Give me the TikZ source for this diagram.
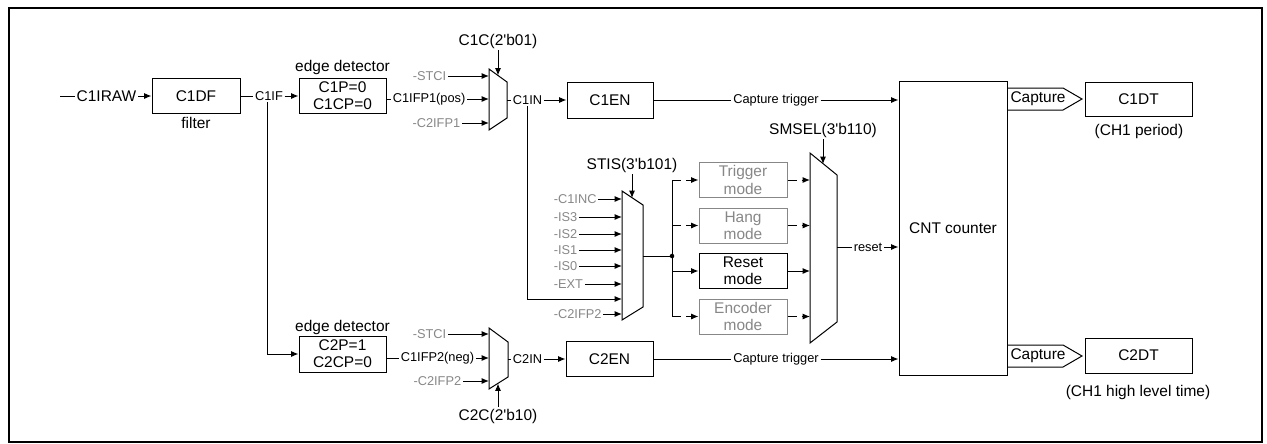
\documentclass[tikz,border=0pt]{standalone}
\usepackage{fontspec}
\setmainfont{Liberation Sans}
\usetikzlibrary{arrows.meta}
\definecolor{gtxt}{RGB}{135,135,135}
\newcommand{\q}{\textquotesingle}
\begin{document}
\begin{tikzpicture}[x=0.75pt,y=-0.75pt,line width=0.75pt,
  every node/.style={font=\fontsize{11.6}{13}\selectfont, inner sep=1pt},
  sz/.style 2 args={minimum width=#1*0.75pt, minimum height=#2*0.75pt},
  box/.style={draw, line width=0.75pt, align=center, inner sep=0pt},
  gbox/.style={box, draw=gtxt, text=gtxt},
  lbl/.style={font=\fontsize{9.6}{11}\selectfont, inner sep=1pt},
  glbl/.style={lbl, text=gtxt},
  arr/.style={-{Latex[length=5.5pt,width=4.5pt]}},
  dsh/.style={dash pattern=on 7pt off 3.5pt}]
\useasboundingbox (0,0) rectangle (1267,443);
\draw[line width=1.5pt] (9,8) rectangle (1262,442);

% ---------- row 1 ----------
\coordinate (rawin) at (60,96);
\node (raw) at (106.5,96) {C1IRAW};
\node[box, sz={88}{35}] (c1df) at (196,96) {C1DF};
\node (filt) at (196,123) {filter};
\draw (rawin) -- (raw.west);
\draw[arr] (raw.east) -- (c1df.west);

\node[box, sz={87}{35}] (ed1) at (342.5,96) {C1P=0\\C1CP=0};
\node (ed1l) at (342.5,67) {edge detector};
\node[lbl] (c1if) at (269,96) {C1IF};
\draw (c1df.east) -- (c1if.west);
\draw[arr] (c1if.east) -- (ed1.west);

% mux 1
\draw (489,69) -- (507,82) -- (507,118) -- (489,130) -- cycle;
\coordinate (m1a) at (489,76);
\coordinate (m1b) at (489,99);
\coordinate (m1c) at (489,123);
\coordinate (m1o) at (507,100);
\coordinate (m1s) at (498,75.5);
\node[glbl, anchor=east] (s1) at (448,76) {-STCI};
\node[lbl, anchor=west] (p1) at (391,99) {C1IFP1(pos)};
\node[glbl, anchor=east] (c2p1) at (462,123) {-C2IFP1};
\draw[arr] (s1.east) -- (m1a);
\draw (ed1.east |- p1.west) -- (p1.west);
\draw[arr] (p1.east) -- (m1b);
\draw[arr] (c2p1.east) -- (m1c);
\node (c1c) at (498,41) {C1C(2\q b01)};
\draw[arr] (c1c.south) -- (m1s);

\node[lbl] (c1in) at (527.5,100) {C1IN};
\node[box, sz={86}{36}] (c1en) at (610,100) {C1EN};
\draw (m1o) -- (c1in.west);
\draw[arr] (c1in.east) -- (c1en.west);

\node[box, sz={108}{294}] (cnt) at (953,228) {CNT counter};
\node[lbl] (ct1) at (776,100) {Capture trigger};
\draw (c1en.east) -- (ct1.west);
\draw[arr] (ct1.east) -- (ct1.east -| cnt.west);

% ---------- middle ----------
\draw (622,191) -- (643,205) -- (643,307) -- (622,320) -- cycle;
\coordinate (m3s) at (632,198);
\coordinate (m3o) at (643,256);
\coordinate (m3g) at (622,299);
\coordinate (c1inb) at (527,106);
\draw[arr] (c1inb) |- (m3g);
\node (stis) at (632,165) {STIS(3\q b101)};
\draw[arr] (stis.south) -- (m3s);
\foreach \n/\t/\y in {i1/-C1INC/199, i2/-IS3/217, i3/-IS2/234, i4/-IS1/250, i5/-IS0/266, i6/-EXT/284, i7/-C2IFP2/314}{
  \node[glbl, anchor=west] (\n) at (552,\y) {\t};
  \coordinate (\n m) at (622,\y);
  \draw[arr] (\n.east) -- (\n m);
}

\node[gbox, sz={88}{35}] (trig) at (743,180) {Trigger\\mode};
\node[gbox, sz={88}{35}] (hang) at (743,225.5) {Hang\\mode};
\node[box, sz={88}{35}] (rstm) at (743,271) {Reset\\mode};
\node[gbox, sz={88}{35}] (enc) at (743,316.5) {Encoder\\mode};

\coordinate (jn) at (672,256);
\draw (m3o) -- (jn);
\fill (jn) circle (1.7pt);
\draw (trig.west -| jn) -- (enc.west -| jn);
\draw[arr, dsh] (trig.west -| jn) -- (trig.west);
\draw[arr, dsh] (hang.west -| jn) -- (hang.west);
\draw[arr] (rstm.west -| jn) -- (rstm.west);
\draw[arr, dsh] (enc.west -| jn) -- (enc.west);

% SMSEL mux
\draw (810,153) -- (837,175) -- (837,322) -- (810,343) -- cycle;
\coordinate (smL) at (810,247);
\coordinate (sms) at (823,164);
\coordinate (smo) at (837,247);
\draw[arr, dsh] (trig.east) -- (trig.east -| smL);
\draw[arr, dsh] (hang.east) -- (hang.east -| smL);
\draw[arr] (rstm.east) -- (rstm.east -| smL);
\draw[arr, dsh] (enc.east) -- (enc.east -| smL);
\node (smsel) at (823,130) {SMSEL(3\q b110)};
\draw[arr] (smsel.south) -- (sms);
\node[lbl] (rst) at (868,247) {reset};
\draw (smo) -- (rst.west);
\draw[arr] (rst.east) -- (rst.east -| cnt.west);

% ---------- bottom row ----------
\node[box, sz={87}{36}] (ed2) at (342.5,354) {C2P=1\\C2CP=0};
\node (ed2l) at (342.5,327) {edge detector};
\coordinate (brk) at (267,102);
\draw[arr] (brk) |- (ed2.west);

\draw (489,328) -- (508,342) -- (508,377) -- (489,389) -- cycle;
\coordinate (m2a) at (489,334);
\coordinate (m2b) at (489,358);
\coordinate (m2c) at (489,381);
\coordinate (m2o) at (508,359);
\coordinate (m2s) at (498,383.5);
\node[glbl, anchor=east] (s2) at (448,334) {-STCI};
\node[lbl, anchor=west] (p2) at (399,358) {C1IFP2(neg)};
\node[glbl, anchor=east] (c2p2) at (463,381) {-C2IFP2};
\draw[arr] (s2.east) -- (m2a);
\draw (ed2.east |- p2.west) -- (p2.west);
\draw[arr] (p2.east) -- (m2b);
\draw[arr] (c2p2.east) -- (m2c);
\node (c2c) at (498,416) {C2C(2\q b10)};
\draw[arr] (c2c.north) -- (m2s);

\node[lbl] (c2in) at (527.5,359) {C2IN};
\node[box, sz={87}{35}] (c2en) at (609.5,359) {C2EN};
\draw (m2o) -- (c2in.west);
\draw[arr] (c2in.east) -- (c2en.west);
\node[lbl] (ct2) at (776,359) {Capture trigger};
\draw (c2en.east) -- (ct2.west);
\draw[arr] (ct2.east) -- (ct2.east -| cnt.west);

% ---------- outputs ----------
\draw (1007,88) -- (1063,88) -- (1082,99) -- (1063,110) -- (1007,110);
\node (cap1) at (1038,99) {Capture};
\node[box, sz={107}{34}] (c1dt) at (1138.5,99) {C1DT};
\node (c1dtl) at (1139,131) {(CH1 period)};

\draw (1007,345) -- (1063,345) -- (1082,356) -- (1063,367) -- (1007,367);
\node (cap2) at (1038,356) {Capture};
\node[box, sz={107}{35}] (c2dt) at (1138.5,355.5) {C2DT};
\node (c2dtl) at (1138,392) {(CH1 high level time)};
\end{tikzpicture}
\end{document}
